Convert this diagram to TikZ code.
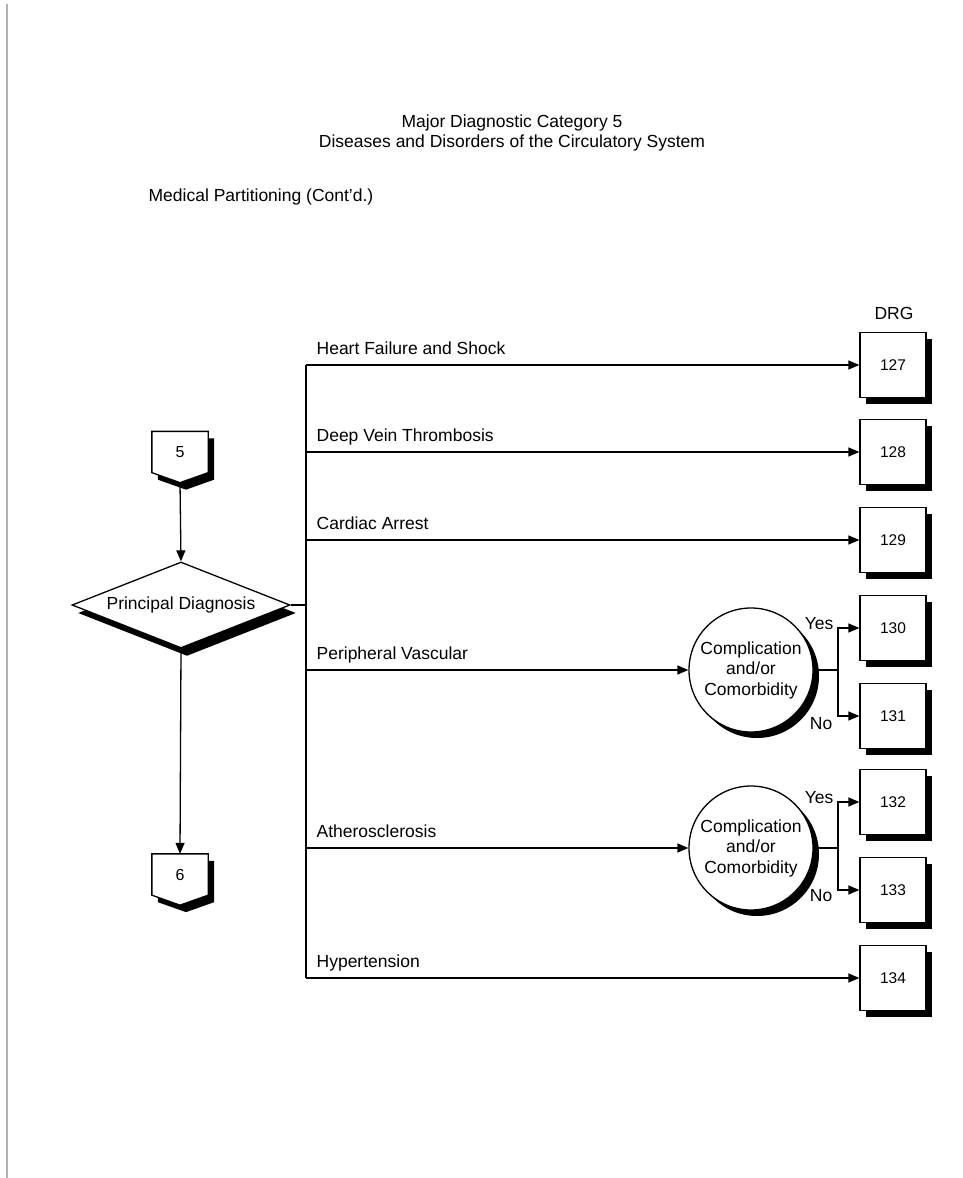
\documentclass[tikz,border=0pt]{standalone}
\usepackage{fontspec}
\setmainfont{Liberation Sans}
\usetikzlibrary{shapes.geometric,shadows,arrows.meta,calc}
\begin{document}
\begin{tikzpicture}[x=1pt,y=-1pt,
  font=\fontsize{17.5}{20.5}\selectfont,
  line width=1.3pt,
  arr/.style={-{Triangle[length=11pt,width=9pt]}},
  shadowed/.style={drop shadow={shadow xshift=6pt,shadow yshift=-6pt,fill=black,opacity=1}},
  drgbox/.style={draw,fill=white,minimum width=66pt,minimum height=65pt,inner sep=0pt,
    shadowed,font=\fontsize{15.5}{18}\selectfont},
  decision/.style={diamond,draw,fill=white,aspect=2.53,minimum width=218pt,
    minimum height=86pt,inner sep=0pt,drop shadow={shadow xshift=6pt,shadow yshift=-8pt,fill=black,opacity=1}},
  ccbubble/.style={circle,draw,fill=white,minimum size=124pt,inner sep=0pt,shadowed,align=center},
  connector/.style={minimum width=55pt,minimum height=40pt,inner sep=0pt,font=\fontsize{16}{18}\selectfont},
  lbl/.style={anchor=base west,inner sep=0pt},
  yn/.style={anchor=base east,inner sep=0pt}
]
% page
\useasboundingbox (0,0) rectangle (962,1178);
\fill[white] (0,0) rectangle (962,1178);
\draw[gray!60,line width=1.5pt] (7,4) -- (7,1178);

% headings
\node[align=center] (title) at (512,133) {Major Diagnostic Category 5\\Diseases and Disorders of the Circulatory System};
\node[anchor=west,inner sep=0pt] (part) at (148,197) {Medical Partitioning (Cont'd.)};
\node (drg) at (894,313) {DRG};

% off-page connectors: pentagon with a black drop shadow
\node[connector] (p5) at (180,452) {};
\fill[black] ($(p5.north west)+(6,7)$) -- ($(p5.north east)+(6,7)$) -- ($(p5.south east)+(6,7)$)
  -- ($(p5.south)+(6,17)$) -- ($(p5.south west)+(6,7)$) -- cycle;
\draw[fill=white] (p5.north west) -- (p5.north east) -- (p5.south east) -- ($(p5.south)+(0,10)$) -- (p5.south west) -- cycle;
\node[connector] at (p5) {5};
\coordinate (p5tip) at ($(p5.south)+(0,10)$);

\node[connector] (p6) at (180,874.5) {};
\fill[black] ($(p6.north west)+(6,7)$) -- ($(p6.north east)+(6,7)$) -- ($(p6.south east)+(6,7)$)
  -- ($(p6.south)+(6,17)$) -- ($(p6.south west)+(6,7)$) -- cycle;
\draw[fill=white] (p6.north west) -- (p6.north east) -- (p6.south east) -- ($(p6.south)+(0,10)$) -- (p6.south west) -- cycle;
\node[connector] at (p6) {6};

% principal diagnosis
\node[decision] (pd) at (181,605) {Principal Diagnosis};
\draw[arr] (p5tip) -- (pd.north);
\draw[arr] (pd.south) -- (p6.north);

% DRG boxes
\node[drgbox] (b127) at (893,365) {127};
\node[drgbox] (b128) at (893,452) {128};
\node[drgbox] (b129) at (893,540) {129};
\node[drgbox] (b130) at (893,628) {130};
\node[drgbox] (b131) at (893,716) {131};
\node[drgbox] (b132) at (893,802) {132};
\node[drgbox] (b133) at (893,890) {133};
\node[drgbox] (b134) at (893,978) {134};

% CC decisions
\node[ccbubble] (c1) at (751,670) {Complication\\and/or\\Comorbidity};
\node[ccbubble] (c2) at (751,848) {Complication\\and/or\\Comorbidity};

% bus
\coordinate (bt) at (306,365);
\coordinate (bb) at (306,978);
\draw (bt) -- (bb);
\draw (pd.east) -- (pd.east -| bt);

% branches
\draw[arr] (bt) -- (b127.west);
\draw[arr] (b128.west -| bt) -- (b128.west);
\draw[arr] (b129.west -| bt) -- (b129.west);
\draw[arr] (c1.west -| bt) -- (c1.west);
\draw[arr] (c2.west -| bt) -- (c2.west);
\draw[arr] (bb) -- (b134.west);

\node[lbl] (l127) at (316,354) {Heart Failure and Shock};
\node[lbl] (l128) at (316,441) {Deep Vein Thrombosis};
\node[lbl] (l129) at (316,529) {Cardiac Arrest};
\node[lbl] (l130) at (316,659) {Peripheral Vascular};
\node[lbl] (l132) at (316,837) {Atherosclerosis};
\node[lbl] (l134) at (316,967) {Hypertension};

% yes / no splits
\coordinate (j1) at (838,670);
\draw (c1.east) -- (j1);
\draw[arr] (j1) |- (b130.west);
\draw[arr] (j1) |- (b131.west);
\node[yn] (y1) at (834,629) {Yes};
\node[yn] (n1) at (833,729) {No};

\coordinate (j2) at (838,848);
\draw (c2.east) -- (j2);
\draw[arr] (j2) |- (b132.west);
\draw[arr] (j2) |- (b133.west);
\node[yn] (y2) at (834,803) {Yes};
\node[yn] (n2) at (833,901) {No};
\end{tikzpicture}
\end{document}
